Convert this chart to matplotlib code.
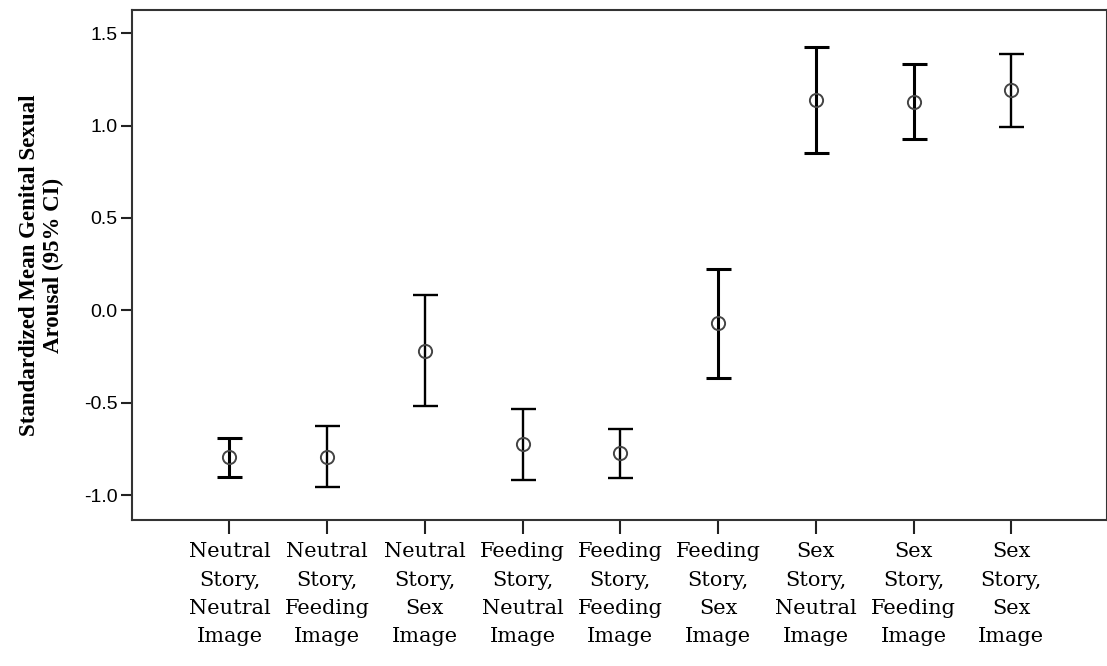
import numpy as np
import matplotlib
matplotlib.use("Agg")
import matplotlib.pyplot as plt

labels = [
    "Neutral\nStory,\nNeutral\nImage",
    "Neutral\nStory,\nFeeding\nImage",
    "Neutral\nStory,\nSex\nImage",
    "Feeding\nStory,\nNeutral\nImage",
    "Feeding\nStory,\nFeeding\nImage",
    "Feeding\nStory,\nSex\nImage",
    "Sex\nStory,\nNeutral\nImage",
    "Sex\nStory,\nFeeding\nImage",
    "Sex\nStory,\nSex\nImage",
]
means = [-0.793, -0.793, -0.220, -0.726, -0.774, -0.070, 1.139, 1.129, 1.193]
ci_low = [-0.901, -0.958, -0.518, -0.919, -0.908, -0.365, 0.850, 0.926, 0.994]
ci_high = [-0.690, -0.626, 0.083, -0.534, -0.644, 0.224, 1.427, 1.334, 1.388]
bar_widths = [2.2, 1.7, 1.7, 1.7, 1.7, 2.2, 2.2, 2.2, 1.7]

fig = plt.figure(figsize=(11.07, 6.66), dpi=100)
ax = fig.add_axes([0.119, 0.2192, 0.881, 0.7658])

x = np.arange(1, len(means) + 1)
for i in range(len(means)):
    err = [[means[i] - ci_low[i]], [ci_high[i] - means[i]]]
    ax.errorbar(x[i], means[i], yerr=err, fmt='none', ecolor='black',
                elinewidth=bar_widths[i], capsize=9, capthick=bar_widths[i])
ax.plot(x, means, 'o', markersize=9.5, markerfacecolor='none',
        markeredgecolor='#444444', markeredgewidth=1.4, linestyle='none')

ax.set_xlim(0, 9.98)
ax.set_ylim(-1.135, 1.626)
ax.set_yticks([-1.0, -0.5, 0.0, 0.5, 1.0, 1.5])
ax.set_yticklabels(['-1.0', '-0.5', '0.0', '0.5', '1.0', '1.5'],
                   family=['Liberation Sans Narrow', 'Liberation Sans'], fontsize=14)
ax.set_xticks(x)
ax.set_xticklabels(labels, family='DejaVu Serif', fontsize=15, linespacing=1.62)

ax.tick_params(axis='y', length=8, width=1.5, pad=2, colors='#222222')
ax.tick_params(axis='x', length=10, width=1.5, pad=6, colors='#222222')
for lbl in ax.get_xticklabels() + ax.get_yticklabels():
    lbl.set_color('black')
for s in ax.spines.values():
    s.set_linewidth(1.5)
    s.set_color('#333333')

ax.set_ylabel('Standardized Mean Genital Sexual\nArousal (95% CI)',
              family='Liberation Serif', fontweight='bold', fontsize=16.5,
              linespacing=1.2)
ax.yaxis.set_label_coords(-0.069, 0.5)

fig.savefig('out.png', dpi=100)
